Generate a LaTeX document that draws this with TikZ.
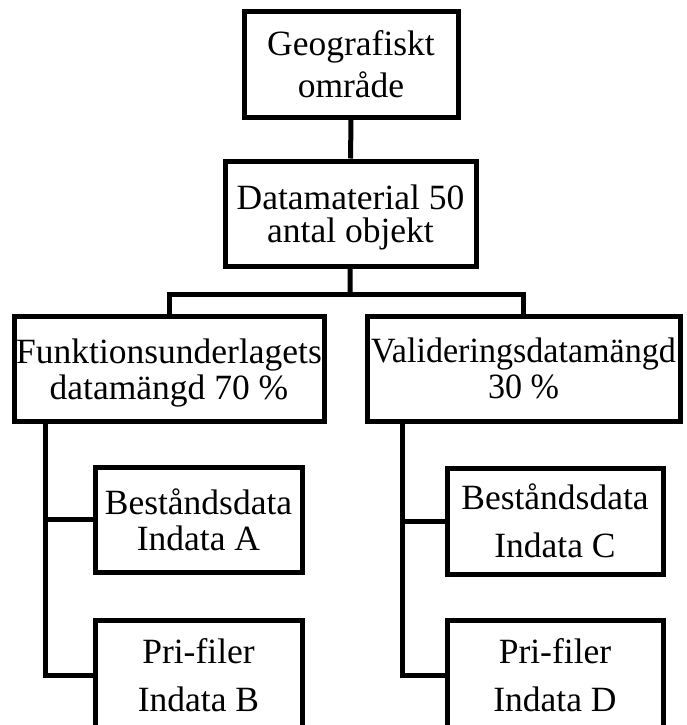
\documentclass[tikz,border=0pt]{standalone}
\usepackage{fontspec}
\setmainfont{Liberation Serif}
\newcommand{\lsp}[1]{\fontsize{35.5}{#1}\selectfont}
\newcommand{\nodepth}[1]{\raisebox{0pt}[\height][0pt]{#1}}

\begin{document}
\begin{tikzpicture}[x=1pt, y=-1pt, line width=5pt,
	blk/.style={draw, align=center, inner sep=0pt, minimum height=105pt}]
	\useasboundingbox (0,0) rectangle (686,725);
	\clip (0,0) rectangle (686,725);
	\node[blk, minimum width=214pt, font=\lsp{42}] (geo) at (351,64.5) {Geografiskt\\område};
	\node[blk, minimum width=251pt, font=\lsp{33}] (data) at (350.5,213.5) {Datamaterial 50\\\nodepth{antal objekt}};
	\node[blk, minimum width=310pt, font=\lsp{36}] (funk) at (169,369) {Funktionsunderlagets\\\nodepth{datamängd 70 \%}};
	\node[blk, minimum width=313pt, font=\lsp{36}\addfontfeatures{FakeStretch=0.96}] (vali) at (523.5,368.5) {Valideringsdatamängd\\30 \%};
	\node[blk, minimum width=207pt, font=\lsp{36}] (inA) at (198.5,519.5) {Beståndsdata\\Indata A};
	\node[blk, minimum width=207pt, minimum height=110pt, font=\lsp{48}] (inB) at (198.5,675) {Pri-filer\\Indata B};
	\node[blk, minimum width=216pt, minimum height=106pt, font=\lsp{48}] (inC) at (555,521) {Beståndsdata\\Indata C};
	\node[blk, minimum width=216pt, minimum height=110pt, font=\lsp{48}] (inD) at (555,675) {Pri-filer\\Indata D};
	\coordinate (bus) at (350,294);
	\coordinate (lcol) at (45,0);
	\coordinate (rcol) at (402,0);
	\draw (geo) -- (data);
	\draw (data) -- (bus);
	\draw (funk.north) |- (bus) -| (vali.north);
	\draw (funk.south -| lcol) |- (inB.west);
	\draw (inA.west -| lcol) -- (inA.west);
	\draw (vali.south -| rcol) |- (inD.west);
	\draw (inC.west -| rcol) -- (inC.west);
\end{tikzpicture}
\end{document}
